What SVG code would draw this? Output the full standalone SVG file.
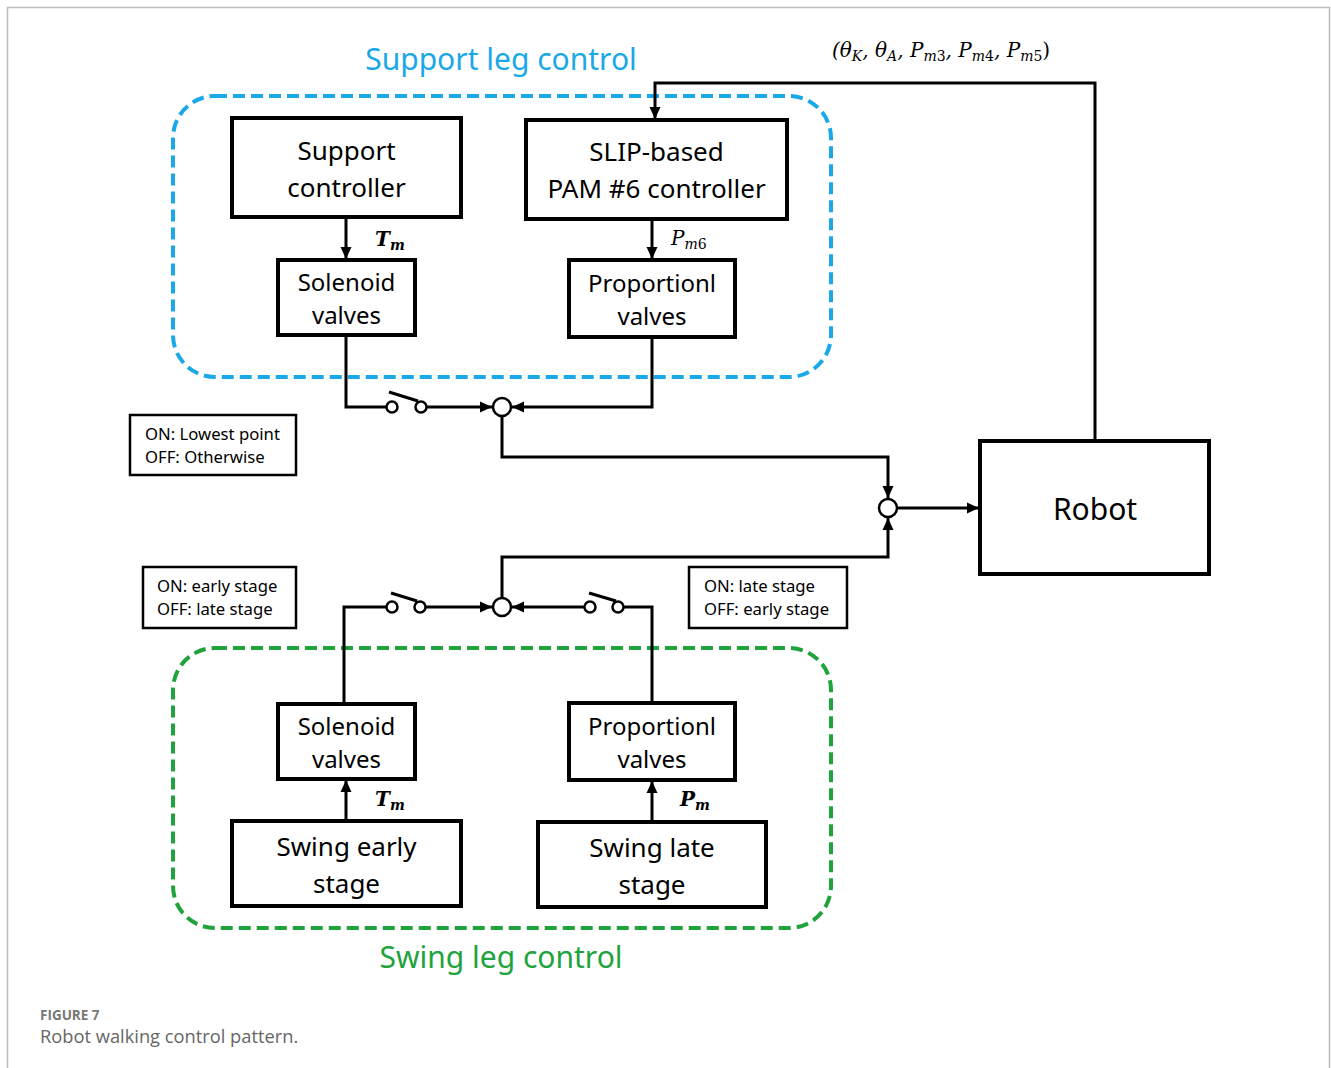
<svg xmlns="http://www.w3.org/2000/svg" width="1331" height="1068" viewBox="0 0 1331 1068">
<defs>
<marker id="ah" viewBox="0 0 12 12" refX="12" refY="6" markerWidth="12" markerHeight="12" markerUnits="userSpaceOnUse" orient="auto">
<path d="M0,0.5 L12,6 L0,11.5 z" fill="#000"/>
</marker>
<style>
.box{fill:#fff;stroke:#000;stroke-width:4}
.sbox{fill:#fff;stroke:#000;stroke-width:2.5}
.t{font-family:"Noto Sans","Open Sans",sans-serif;font-size:26px;fill:#000;text-anchor:middle}
.tv{font-family:"Noto Sans","Open Sans",sans-serif;font-size:24px;fill:#000;text-anchor:middle}
.ts{font-family:"Noto Sans","Open Sans",sans-serif;font-size:16.7px;fill:#000}
.ln{fill:none;stroke:#000;stroke-width:3}
.arr{fill:none;stroke:#000;stroke-width:3;marker-end:url(#ah)}
.jc{fill:#fff;stroke:#000;stroke-width:2.5}
.sw{fill:#fff;stroke:#000;stroke-width:2.5}
.m{font-family:"DejaVu Serif","Liberation Serif",serif;font-style:italic;font-size:20px;fill:#000}
.mb{font-family:"DejaVu Serif","Liberation Serif",serif;font-style:italic;font-weight:bold;font-size:20px;fill:#000}
.sub{font-size:14px}
.up{font-style:normal}
</style>
</defs>
<rect x="0" y="0" width="1331" height="1068" fill="#fff"/>
<path d="M7.5,1068 V7.5 H1329.5 V1068" fill="none" stroke="#bdbdbd" stroke-width="1.5"/>

<g id="support-group">
<rect x="173" y="96" width="658" height="281" rx="42" fill="none" stroke="#1ba8e8" stroke-width="4" stroke-dasharray="12 6"/>
<text x="501" y="70" font-family="Noto Sans,Open Sans,sans-serif" font-size="30" fill="#1ba8e8" text-anchor="middle">Support leg control</text>
</g>
<g id="swing-group">
<rect x="173" y="648" width="658" height="280" rx="42" fill="none" stroke="#20a33c" stroke-width="4" stroke-dasharray="12 6"/>
<text x="501" y="968" font-family="Noto Sans,Open Sans,sans-serif" font-size="30" fill="#20a33c" text-anchor="middle">Swing leg control</text>
</g>

<g id="connectors">
<line class="arr" x1="346" y1="217" x2="346" y2="259"/>
<line class="arr" x1="652" y1="219" x2="652" y2="259"/>
<path class="ln" d="M346,335 V407 H387"/>
<line class="ln" x1="389" y1="392" x2="418" y2="401"/>
<line class="arr" x1="427" y1="407" x2="492" y2="407"/>
<path class="arr" d="M652,337 V407 H512"/>
<path class="arr" d="M502,416 V457 H888 V498"/>
<line class="arr" x1="897" y1="508" x2="979" y2="508"/>
<path class="arr" d="M1095,441 V83 H655 V119"/>
<path class="ln" d="M344,704 V607 H386"/>
<line class="ln" x1="391" y1="593" x2="417" y2="601"/>
<line class="arr" x1="426" y1="607" x2="492" y2="607"/>
<path class="ln" d="M652,703 V607 H624"/>
<line class="ln" x1="589" y1="593" x2="616" y2="601"/>
<line class="arr" x1="584" y1="607" x2="512" y2="607"/>
<path class="arr" d="M502,598 V557 H888 V518"/>
<line class="arr" x1="346" y1="821" x2="346" y2="780"/>
<line class="arr" x1="652" y1="822" x2="652" y2="781"/>
<circle class="sw" cx="392" cy="407" r="5.5"/>
<circle class="sw" cx="421" cy="407" r="5.5"/>
<circle class="jc" cx="502" cy="407" r="9"/>
<circle class="jc" cx="888" cy="508" r="9"/>
<circle class="sw" cx="392" cy="607" r="5.5"/>
<circle class="sw" cx="420" cy="607" r="5.5"/>
<circle class="sw" cx="590" cy="607" r="5.5"/>
<circle class="sw" cx="618" cy="607" r="5.5"/>
<circle class="jc" cx="502" cy="607" r="9"/>
<text class="mb" x="375" y="246">T<tspan class="sub" dy="4">m</tspan></text>
<text class="m" x="671" y="245">P<tspan class="sub" dy="4">m<tspan class="up">6</tspan></tspan></text>
<text class="mb" x="375" y="806">T<tspan class="sub" dy="4">m</tspan></text>
<text class="mb" x="680" y="806">P<tspan class="sub" dy="4">m</tspan></text>
<text class="m" x="832" y="57" font-size="21">(θ<tspan class="sub" dy="4">K</tspan><tspan dy="-4">, θ</tspan><tspan class="sub" dy="4">A</tspan><tspan dy="-4">, P</tspan><tspan class="sub" dy="4">m<tspan class="up">3</tspan></tspan><tspan dy="-4">, P</tspan><tspan class="sub" dy="4">m<tspan class="up">4</tspan></tspan><tspan dy="-4">, P</tspan><tspan class="sub" dy="4">m<tspan class="up">5</tspan></tspan><tspan class="up" dy="-4">)</tspan></text>
</g>

<g id="support-controller">
<rect class="box" x="232" y="118" width="229" height="99"/>
<text class="t" x="346.5" y="160">Support</text>
<text class="t" x="346.5" y="197">controller</text>
</g>
<g id="slip-controller">
<rect class="box" x="526" y="120" width="261" height="99"/>
<text class="t" x="656.5" y="161">SLIP-based</text>
<text class="t" x="656.5" y="198">PAM #6 controller</text>
</g>
<g id="solenoid-top">
<rect class="box" x="278" y="260" width="137" height="75"/>
<text class="tv" x="346.5" y="291">Solenoid</text>
<text class="tv" x="346.5" y="324">valves</text>
</g>
<g id="proportional-top">
<rect class="box" x="569" y="260" width="166" height="77"/>
<text class="tv" x="652" y="292">Proportionl</text>
<text class="tv" x="652" y="325">valves</text>
</g>
<g id="note-lowest">
<rect class="sbox" x="130" y="415" width="166" height="60"/>
<text class="ts" x="145" y="440">ON: Lowest point</text>
<text class="ts" x="145" y="463">OFF: Otherwise</text>
</g>
<g id="robot">
<rect class="box" x="980" y="441" width="229" height="133"/>
<text x="1095" y="520" font-family="Noto Sans,Open Sans,sans-serif" font-size="30" text-anchor="middle">Robot</text>
</g>
<g id="note-early">
<rect class="sbox" x="143" y="567" width="153" height="61"/>
<text class="ts" x="157" y="592">ON: early stage</text>
<text class="ts" x="157" y="615">OFF: late stage</text>
</g>
<g id="note-late">
<rect class="sbox" x="689" y="567" width="158" height="61"/>
<text class="ts" x="704" y="592">ON: late stage</text>
<text class="ts" x="704" y="615">OFF: early stage</text>
</g>
<g id="solenoid-bottom">
<rect class="box" x="278" y="704" width="137" height="75"/>
<text class="tv" x="346.5" y="735">Solenoid</text>
<text class="tv" x="346.5" y="768">valves</text>
</g>
<g id="proportional-bottom">
<rect class="box" x="569" y="703" width="166" height="77"/>
<text class="tv" x="652" y="735">Proportionl</text>
<text class="tv" x="652" y="768">valves</text>
</g>
<g id="swing-early">
<rect class="box" x="232" y="821" width="229" height="85"/>
<text class="t" x="346.5" y="856">Swing early</text>
<text class="t" x="346.5" y="893">stage</text>
</g>
<g id="swing-late">
<rect class="box" x="538" y="822" width="228" height="85"/>
<text class="t" x="652" y="857">Swing late</text>
<text class="t" x="652" y="894">stage</text>
</g>

<g id="caption">
<text x="40" y="1020" font-family="Open Sans,Noto Sans,sans-serif" font-size="13.5" font-weight="bold" fill="#777">FIGURE 7</text>
<text x="40" y="1043" font-family="Open Sans,Noto Sans,sans-serif" font-size="18.3" fill="#666">Robot walking control pattern.</text>
</g>
</svg>
